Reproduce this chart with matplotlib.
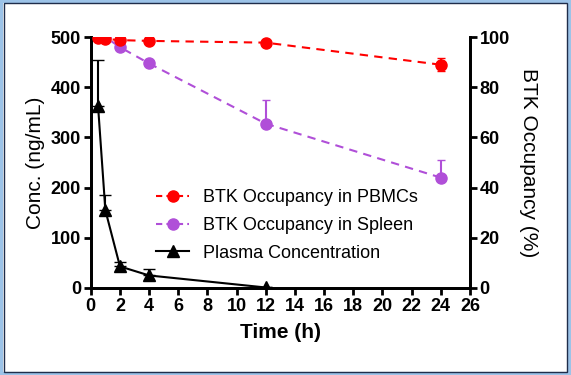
import matplotlib.pyplot as plt
from matplotlib.lines import Line2D
from matplotlib.patches import Rectangle

plt.rcParams['font.family'] = ['Liberation Sans', 'DejaVu Sans']

# plasma concentration (ng/mL), upward SD
t_plasma = [0.5, 1, 2, 4, 12]
conc = [362, 155, 43, 25, 1]
conc_err = [93, 30, 9, 12, 0]

# BTK occupancy (%)
t_occ = [0.5, 1, 2, 4, 12, 24]
pbmc = [99.5, 99.3, 98.8, 98.5, 97.8, 89]
pbmc_err = [0.5, 0.5, 0.5, 0.5, 0.8, 2.5]
spleen = [100, 100, 96, 89.5, 65.5, 44]
spleen_err = [0, 0, 0, 0, 9.5, 7]

xticks = list(range(0, 27, 2))
red = '#ff0000'
purple = '#b04fd8'

fig = plt.figure(figsize=(5.71, 3.75), dpi=100)
ax = fig.add_axes([0.159, 0.232, 0.664, 0.669])
ax2 = ax.twinx()

ax2.errorbar(t_occ, pbmc, yerr=pbmc_err, color=red, ls='--', lw=1.5,
             marker='o', ms=8, capsize=3, elinewidth=1.5, dashes=(4, 3), zorder=3)
ax2.errorbar(t_occ, spleen, yerr=[[0] * 6, spleen_err], color=purple,
             ls='--', lw=1.5, marker='o', ms=8, capsize=3, elinewidth=1.5,
             dashes=(4, 3), zorder=2)
ax2.errorbar(t_plasma, [c / 5 for c in conc],
             yerr=[[0] * 5, [e / 5 for e in conc_err]], color='black',
             lw=1.5, marker='^', ms=8, capsize=4, elinewidth=1.5, zorder=4)

ax.set_xlim(0, 26)
ax.set_ylim(0, 500)
ax2.set_ylim(0, 100)
ax.set_xticks(xticks)
ax.set_yticks(range(0, 501, 100))
ax2.set_yticks(range(0, 101, 20))

for a in (ax, ax2):
    a.spines['top'].set_visible(False)
    for s in a.spines.values():
        s.set_linewidth(2)
    a.tick_params(width=2, length=5, labelsize=13, pad=2)
    for lbl in a.get_xticklabels() + a.get_yticklabels():
        lbl.set_fontweight('bold')

ax.set_xlabel('Time (h)', fontsize=15, fontweight='bold', labelpad=6)
ax.set_ylabel('Conc. (ng/mL)', fontsize=15, labelpad=4)
ax2.set_ylabel('BTK Occupancy (%)', fontsize=15, rotation=270, labelpad=20)

handles = [
    Line2D([], [], color=red, ls='--', dashes=(3, 2), lw=1.5, marker='o', ms=8),
    Line2D([], [], color=purple, ls='--', dashes=(3, 2), lw=1.5, marker='o', ms=8),
    Line2D([], [], color='black', lw=1.5, marker='^', ms=8),
]
labels = ['BTK Occupancy in PBMCs', 'BTK Occupancy in Spleen', 'Plasma Concentration']
ax2.legend(handles, labels, loc='lower left', bbox_to_anchor=(0.13, 0.04),
           frameon=False, fontsize=13, handlelength=1.8, handletextpad=0.8,
           labelspacing=0.6)

fig.patches.append(Rectangle((0.002, 0.003), 0.996, 0.994, transform=fig.transFigure,
                             fill=False, ec='#9cc3e8', lw=3))
fig.patches.append(Rectangle((0.007, 0.008), 0.986, 0.984, transform=fig.transFigure,
                             fill=False, ec='#1f2d4a', lw=1))

fig.savefig('out.png', dpi=100)
